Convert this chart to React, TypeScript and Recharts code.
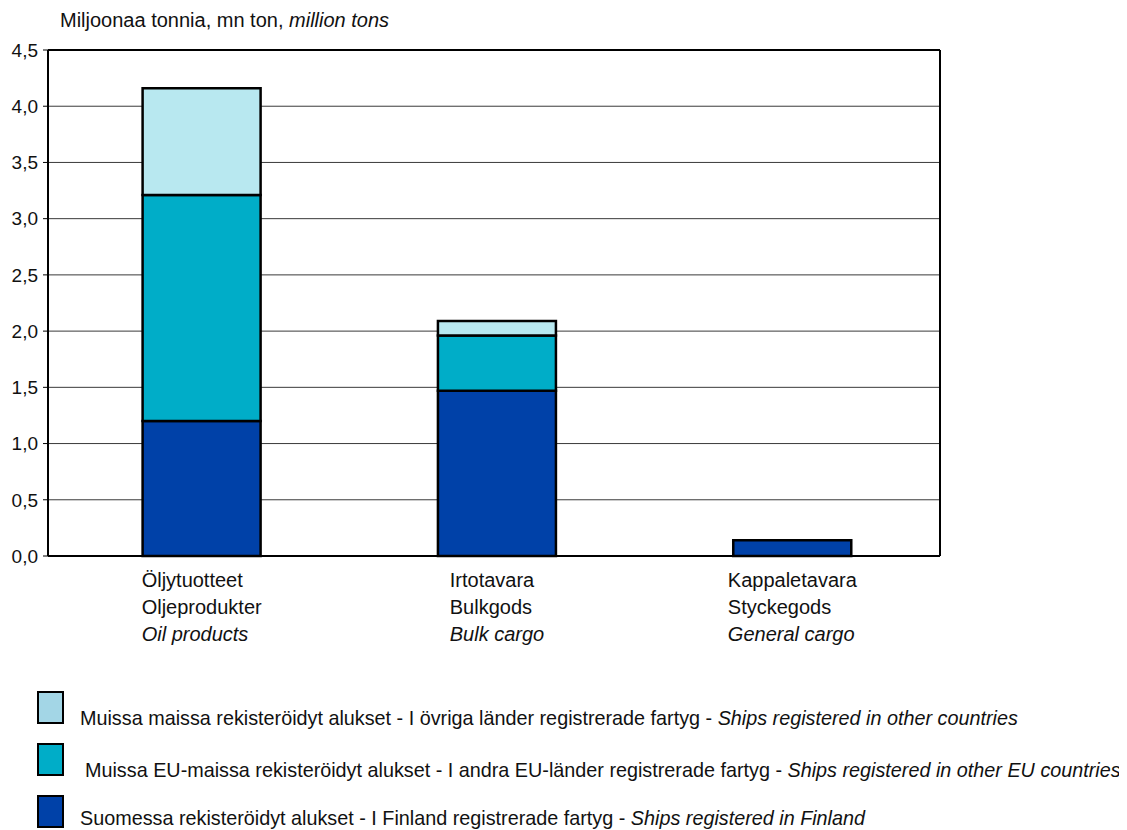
import React from "react";
import { BarChart, Bar, XAxis, YAxis, CartesianGrid } from "recharts";

const categoriesFi = ["Öljytuotteet", "Irtotavara", "Kappaletavara"];
const categoriesSv = ["Oljeprodukter", "Bulkgods", "Styckegods"];
const categoriesEn = ["Oil products", "Bulk cargo", "General cargo"];

const finland = [1.2, 1.47, 0.14];
const otherEu = [2.01, 0.49, 0];
const otherCountries = [0.95, 0.13, 0];

const yTicks = [0, 0.5, 1, 1.5, 2, 2.5, 3, 3.5, 4, 4.5];

const seriesNames = {
  other: ["Muissa maissa rekisteröidyt alukset - I övriga länder registrerade fartyg - ", "Ships registered in other countries"],
  eu: ["Muissa EU-maissa rekisteröidyt alukset - I andra EU-länder registrerade fartyg - ", "Ships registered in other EU countries"],
  fi: ["Suomessa rekisteröidyt alukset - I Finland registrerade fartyg - ", "Ships registered in Finland"],
};

const data = categoriesFi.map((c, i) => ({
  name: c,
  fi: finland[i],
  eu: otherEu[i],
  other: otherCountries[i],
}));

const FONT = "'Liberation Sans', Arial, sans-serif";
const C_LIGHT = "#b8e8f0";
const C_MID = "#00adc8";
const C_DARK = "#0041a8";

let measureCtx: CanvasRenderingContext2D | null = null;
const measure = (s: string, italic: boolean) => {
  if (!measureCtx && typeof document !== "undefined") {
    measureCtx = document.createElement("canvas").getContext("2d");
  }
  if (!measureCtx) return s.length * 9.3;
  measureCtx.font = `${italic ? "italic " : ""}20px 'Liberation Sans', Arial, sans-serif`;
  return measureCtx.measureText(s).width;
};

const CategoryTick = (props: any) => {
  const { x, y, index } = props;
  const lines = [categoriesFi[index], categoriesSv[index], categoriesEn[index]];
  const w = Math.max(...lines.map((l, i) => measure(l, i === 2)));
  const left = x - w / 2;
  return (
    <g>
      {lines.map((l, i) => (
        <text
          key={i}
          x={left}
          y={y + 23 + i * 27}
          textAnchor="start"
          fontFamily={FONT}
          fontSize={20}
          fontStyle={i === 2 ? "italic" : "normal"}
          fill="#111"
        >
          {l}
        </text>
      ))}
    </g>
  );
};

const legendRows = [
  { key: "other", color: "#a3d6e6", indent: 0, swatchTop: 683, textTop: 699 },
  { key: "eu", color: C_MID, indent: 5, swatchTop: 735, textTop: 751 },
  { key: "fi", color: C_DARK, indent: 0, swatchTop: 787, textTop: 799 },
];

export default function App() {
  return (
    <div style={{ position: "relative", width: 1111, height: 822, fontFamily: FONT, color: "#111" }}>
      <div style={{ position: "absolute", left: 52, top: 1, fontSize: 20, lineHeight: "22px", whiteSpace: "nowrap" }}>
        Miljoonaa tonnia, mn ton, <i>million tons</i>
      </div>
      <BarChart
        width={1111}
        height={660}
        data={data}
        margin={{ top: 41, right: 178, bottom: 12, left: 0 }}
        barCategoryGap="30%"
      >
        <CartesianGrid vertical={false} stroke="#3a3a3a" strokeWidth={1} />
        <XAxis
          dataKey="name"
          axisLine={{ stroke: "#000", strokeWidth: 2 }}
          tickLine={false}
          tick={<CategoryTick />}
          height={100}
          interval={0}
          padding={{ left: 6, right: 0 }}
        />
        <XAxis xAxisId="top" orientation="top" dataKey="name" height={1} tick={false} tickLine={false} axisLine={{ stroke: "#000", strokeWidth: 2 }} />
        <YAxis
          domain={[0, 4.5]}
          ticks={yTicks}
          width={40}
          axisLine={{ stroke: "#000", strokeWidth: 2 }}
          tickLine={{ stroke: "#000" }}
          tickSize={5}
          tickMargin={5}
          tickFormatter={(v: number) => v.toFixed(1).replace(".", ",")}
          tick={{ fontFamily: FONT, fontSize: 19, fill: "#111" }}
        />
        <YAxis yAxisId="right" orientation="right" width={1} domain={[0, 4.5]} tick={false} tickLine={false} axisLine={{ stroke: "#000", strokeWidth: 2 }} />
        <Bar dataKey="fi" stackId="a" fill={C_DARK} stroke="#000" strokeWidth={2.5} isAnimationActive={false} />
        <Bar dataKey="eu" stackId="a" fill={C_MID} stroke="#000" strokeWidth={2.5} isAnimationActive={false} />
        <Bar dataKey="other" stackId="a" fill={C_LIGHT} stroke="#000" strokeWidth={2.5} isAnimationActive={false} />
      </BarChart>
      {legendRows.map((r) => {
        const [plain, italic] = (seriesNames as any)[r.key];
        return (
          <React.Fragment key={r.key}>
            <div style={{ position: "absolute", left: 29, top: r.swatchTop, width: 23, height: 29, background: r.color, border: "2px solid #000" }} />
            <div style={{ position: "absolute", left: 72 + r.indent, top: r.textTop, fontSize: 19.8, lineHeight: "22px", whiteSpace: "nowrap" }}>
              {plain}
              <i>{italic}</i>
            </div>
          </React.Fragment>
        );
      })}
    </div>
  );
}
